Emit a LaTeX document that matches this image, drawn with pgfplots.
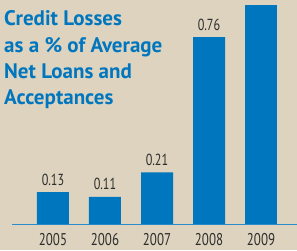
\documentclass[border=0pt]{standalone}
\usepackage{graphicx}
\usepackage{pgfplots}
\pgfplotsset{compat=1.18}
\usepackage{fontspec}
\setmainfont{PT Sans}
\definecolor{bg}{RGB}{221,211,190}
\definecolor{bmoblue}{RGB}{0,118,190}
\definecolor{lineblue}{RGB}{40,140,205}
\definecolor{txt}{RGB}{45,45,45}
\newcommand{\cond}[2][0.76]{\scalebox{#1}[1]{#2}}
\begin{document}
\begin{tikzpicture}
\useasboundingbox (0,0) rectangle (297pt,250pt);
\clip (0,0) rectangle (297pt,250pt);
\fill[bg] (0,0) rectangle (297pt,250pt);
\begin{axis}[
  at={(0,0)}, anchor=south west,
  scale only axis, width=297pt, height=250pt,
  xmin=-1.019, xmax=4.692,
  ymin=-0.1057, ymax=0.9106,
  axis line style={draw=none},
  ytick=\empty,
  xtick={0,1,2,3,4},
  xticklabels={\cond[0.76]{2005},\cond[0.76]{2006},\cond[0.76]{2007},\cond[0.76]{2008},\cond[0.76]{2009}},
  major tick length=0pt,
  xticklabel style={font=\fontsize{17}{20}\selectfont, text=txt, anchor=base, inner sep=0pt, yshift=4.5pt},
  xticklabel pos=lower,
  clip=false,
  ybar, bar width=32pt,
]
\draw[lineblue, line width=0.8pt] (axis cs:-0.79,0) -- (axis cs:4.692,0);
\addplot[fill=bmoblue, draw=none, bar shift=0pt,
  point meta=explicit symbolic,
  nodes near coords={\cond{\pgfplotspointmeta}},
  every node near coord/.append style={font=\fontsize{16}{18}\selectfont, text=txt, anchor=base, yshift=7pt}]
  coordinates {(0,0.13)[0.13] (1,0.11)[0.11] (2,0.21)[0.21] (3,0.76)[0.76]};
\addplot[fill=bmoblue, draw=none, bar shift=0pt] coordinates {(4,0.89)};
\end{axis}
\begin{scope}[every node/.style={anchor=base west, inner sep=0pt, text=bmoblue,
  font=\fontsize{21}{26}\selectfont\bfseries}]
\node at (4pt,225pt) {Credit Losses};
\node at (4pt,198pt) {as a \% of Average};
\node at (4pt,171.5pt) {Net Loans and};
\node at (4pt,146pt) {Acceptances};
\end{scope}
\end{tikzpicture}
\end{document}
